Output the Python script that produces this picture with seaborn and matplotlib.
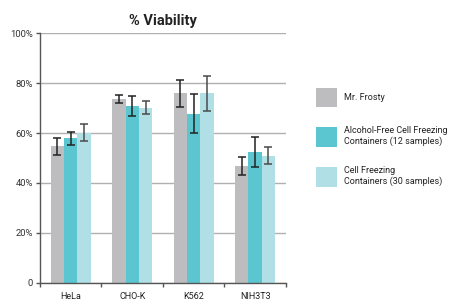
import pandas as pd
import numpy as np
import matplotlib.pyplot as plt
import seaborn as sns
from matplotlib.patches import Patch

cell_lines = ['HeLa', 'CHO-K', 'K562', 'NIH3T3']
containers = ['Mr. Frosty',
              'Alcohol-Free Cell Freezing\nContainers (12 samples)',
              'Cell Freezing\nContainers (30 samples)']
mr_frosty = [54.6, 73.7, 75.9, 46.7]
mr_frosty_err = [3.5, 1.6, 5.3, 3.7]
alcohol_free = [57.9, 70.9, 67.8, 52.4]
alcohol_free_err = [2.7, 4.0, 7.8, 6.2]
cell_freezing = [60.1, 70.1, 75.9, 50.8]
cell_freezing_err = [3.5, 2.6, 7.0, 3.4]
y_ticks = [0, 20, 40, 60, 80, 100]
y_tick_labels = ['0', '20%', '40%', '60%', '80%', '100%']

palette = ['#bdbdbf', '#5bc5d0', '#b0e0e5']
err_colors = ['#222222', '#222222', '#4a4a4a']

df = pd.DataFrame({
    'line': cell_lines * 3,
    'container': np.repeat(containers, len(cell_lines)),
    'value': mr_frosty + alcohol_free + cell_freezing,
    'err': mr_frosty_err + alcohol_free_err + cell_freezing_err,
})

sns.set_theme(style='white')
plt.rcParams['font.family'] = ['Roboto', 'DejaVu Sans']

fig = plt.figure(figsize=(4.53, 3.0), dpi=100)
ax = fig.add_axes([0.0883, 0.058, 0.5427, 0.831])

sns.barplot(data=df, x='line', y='value', hue='container', hue_order=containers,
            palette=palette, errorbar=None, width=0.65, saturation=1,
            linewidth=0, ax=ax, zorder=2)

# error bars on top of each bar
for i, cont in enumerate(containers):
    sub = df[df['container'] == cont]
    bars = ax.containers[i]
    xs = [b.get_x() + b.get_width() / 2 for b in bars]
    ax.errorbar(xs, sub['value'], yerr=sub['err'], fmt='none',
                ecolor=err_colors[i], elinewidth=1.1, capsize=3, capthick=1.1, zorder=3)

ax.set_ylim(0, 100)
ax.set_xlim(-0.5, 3.5)
ax.set_yticks(y_ticks)
ax.set_yticklabels(y_tick_labels)
ax.yaxis.grid(True, color='#b0b0b0', linewidth=1, zorder=0)
ax.xaxis.grid(False)
ax.set_xlabel('')
ax.set_ylabel('')
ax.set_title('% Viability', fontsize=10.5, fontweight='bold', color='#222222', pad=6)

for s in ['top', 'right']:
    ax.spines[s].set_visible(False)
for s in ['left', 'bottom']:
    ax.spines[s].set_color('#555555')
    ax.spines[s].set_linewidth(1)

ax.tick_params(axis='y', which='both', left=True, length=3, width=1, color='#555555',
               labelsize=6.8, labelcolor='#333333', pad=2)
ax.tick_params(axis='x', which='major', bottom=False, labelsize=6.5, labelcolor='#222222', pad=1)
ax.set_xticks([-0.5, 0.5, 1.5, 2.5, 3.5], minor=True)
ax.tick_params(axis='x', which='minor', bottom=True, length=3, width=1, color='#555555')

ax.legend_.remove()
handles = [Patch(facecolor=c, edgecolor='none') for c in palette]
fig.legend(handles, containers, loc='upper left', bbox_to_anchor=(0.68, 0.735),
           frameon=False, fontsize=6.5, handlelength=2.3, handleheight=3.0,
           labelspacing=2.1, handletextpad=0.8, labelcolor='#222222')

fig.savefig('out.png', dpi=100)
